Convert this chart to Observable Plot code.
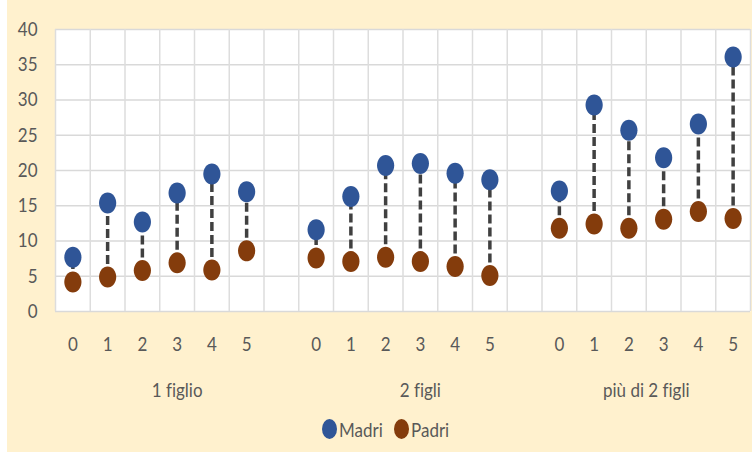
<!DOCTYPE html>
<html>
<head>
<meta charset="utf-8">
<script src="https://cdn.jsdelivr.net/npm/d3@7"></script>
<script src="https://cdn.jsdelivr.net/npm/@observablehq/plot@0.6"></script>
<style>
  body { margin: 0; background: #ffffff; }
  #wrap { position: relative; width: 752px; height: 453px; overflow: hidden; }
  #bg { position: absolute; left: 7px; top: 0; width: 745px; height: 452px; background: #FFF1CE; }
  #chart { position: absolute; left: 0; top: 0; }
  #chart text { font-variant-ligatures: none; }
  #legend { position: absolute; top: 418px; left: 322px; display: flex; align-items: center;
            font-family: Lato, sans-serif; font-size: 20px; color: #595959; font-variant-ligatures: none; line-height: 22px; }
  .sw { display: inline-block; width: 15px; height: 20px; border-radius: 50%; margin-right: 2px; }
  .lbl { display: inline-block; transform: scaleX(0.85); transform-origin: left center; }
</style>
</head>
<body>
<div id="wrap">
  <div id="bg"></div>
  <div id="chart"></div>
  <div id="legend"></div>
</div>
<script>
// ---- data ----
const groups = ["1 figlio", "2 figli", "più di 2 figli"];
const steps = ["0", "1", "2", "3", "4", "5"];
const madri = [7.7, 15.4, 12.7, 16.8, 19.5, 17.0,
               11.6, 16.3, 20.7, 21.0, 19.6, 18.7,
               17.1, 29.3, 25.7, 21.8, 26.6, 36.1];
const padri = [4.2, 4.9, 5.8, 6.9, 5.9, 8.6,
               7.6, 7.1, 7.7, 7.1, 6.4, 5.1,
               11.8, 12.4, 11.8, 13.1, 14.2, 13.2];
const yTicks = [0, 5, 10, 15, 20, 25, 30, 35, 40];
const seriesNames = ["Madri", "Padri"];
const seriesColors = ["#2F5597", "#843C0C"];

// ---- layout of category slots (6 steps + 1 blank per group) ----
const slotsPerGroup = steps.length + 1;
const nSlots = groups.length * slotsPerGroup - 1;
const rows = groups.flatMap((g, gi) => steps.map((s, si) => ({
  group: g, step: s, slot: gi * slotsPerGroup + si + 0.5,
  madri: madri[gi * steps.length + si], padri: padri[gi * steps.length + si]
})));
const stepTicks = rows.map(d => d.slot);
const stepLabel = new Map(rows.map(d => [d.slot, d.step]));
const groupTicks = groups.map((g, gi) => {
  const start = gi * slotsPerGroup, end = Math.min(start + slotsPerGroup, nSlots);
  return (start + end) / 2;
});
const groupLabel = new Map(groupTicks.map((t, i) => [t, groups[i]]));

const ellipse = {
  draw(ctx) {
    const rx = 8.6, ry = 10.5, k = 0.5523;
    ctx.moveTo(rx, 0);
    ctx.bezierCurveTo(rx, ry * k, rx * k, ry, 0, ry);
    ctx.bezierCurveTo(-rx * k, ry, -rx, ry * k, -rx, 0);
    ctx.bezierCurveTo(-rx, -ry * k, -rx * k, -ry, 0, -ry);
    ctx.bezierCurveTo(rx * k, -ry, rx, -ry * k, rx, 0);
    ctx.closePath();
  }
};

const chart = Plot.plot({
  width: 752, height: 453,
  marginLeft: 55, marginRight: 2, marginTop: 29, marginBottom: 142,
  style: { background: "transparent", fontFamily: "Lato, sans-serif", fontSize: "20px", color: "#595959" },
  x: { type: "linear", domain: [0, nSlots] },
  y: { domain: [0, 40] },
  marks: [
    Plot.frame({ fill: "white", stroke: null }),
    Plot.gridY(yTicks, { stroke: "#D9D9D9", strokeOpacity: 1, strokeWidth: 1.5 }),
    Plot.gridX(d3.range(nSlots + 1), { stroke: "#DDDDDD", strokeOpacity: 1, strokeWidth: 1.5 }),
    Plot.axisY(yTicks, { tickSize: 0, tickPadding: 18, fill: "#595959", label: null }),
    Plot.axisX(stepTicks, { tickSize: 0, tickPadding: 25, fill: "#595959", label: null, tickFormat: d => stepLabel.get(d) }),
    Plot.axisX(groupTicks, { tickSize: 0, tickPadding: 71, fill: "#595959", label: null, tickFormat: d => groupLabel.get(d) }),
    Plot.link(rows, { x1: "slot", x2: "slot", y1: "padri", y2: "madri", stroke: "#404040", strokeWidth: 3.5, strokeDasharray: "9,4" }),
    Plot.dot(rows, { x: "slot", y: "madri", symbol: ellipse, fill: seriesColors[0], r: 10 }),
    Plot.dot(rows, { x: "slot", y: "padri", symbol: ellipse, fill: seriesColors[1], r: 10 })
  ]
});
// condense text horizontally (the original uses a narrow font)
chart.querySelectorAll("text").forEach(t => {
  const tr = t.getAttribute("transform");
  if (tr) {
    t.setAttribute("transform", tr + " scale(0.85,1)");
  } else {
    const x = +(t.getAttribute("x") || 0), y = +(t.getAttribute("y") || 0);
    t.removeAttribute("x"); t.removeAttribute("y");
    t.setAttribute("transform", `translate(${x},${y}) scale(0.85,1)`);
  }
});
document.getElementById("chart").appendChild(chart);

const legend = document.getElementById("legend");
seriesNames.forEach((n, i) => {
  const sw = document.createElement("span");
  sw.className = "sw";
  sw.style.background = seriesColors[i];
  legend.appendChild(sw);
  const lbl = document.createElement("span");
  lbl.className = "lbl";
  lbl.textContent = n;
  legend.appendChild(lbl);
  lbl.style.marginRight = (-0.15 * lbl.offsetWidth + (i === 0 ? 11 : 0)) + "px";
});
</script>
</body>
</html>
